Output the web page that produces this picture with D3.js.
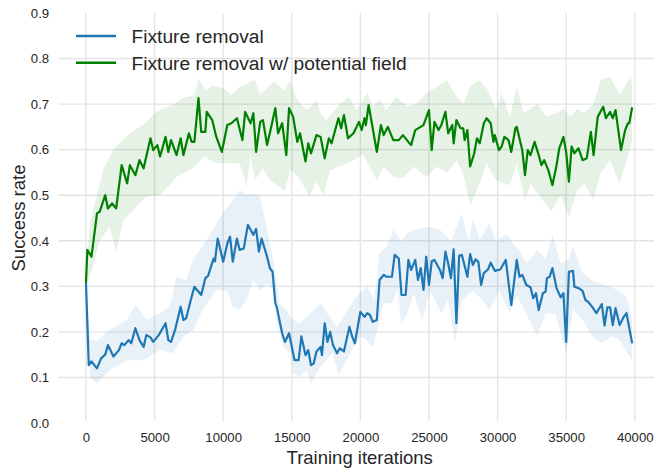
<!DOCTYPE html>
<html>
<head>
<meta charset="utf-8">
<script src="https://cdn.jsdelivr.net/npm/d3@7"></script>
<style>
  body { margin: 0; background: #fff; }
  svg { display: block; font-family: "Liberation Sans", Arial, sans-serif; }
</style>
</head>
<body>
<svg id="chart" width="654" height="468"></svg>
<script>
// ---- data ----
const seriesNames = ['Fixture removal', 'Fixture removal w/ potential field'];
const xTicks = [0, 5000, 10000, 15000, 20000, 25000, 30000, 35000, 40000];
const yTicks = [0.0, 0.1, 0.2, 0.3, 0.4, 0.5, 0.6, 0.7, 0.8, 0.9];

// blue: fixture removal (mean)
const blueIter = [0,200,400,800,1100,1400,1600,2000,2400,2600,2800,3100,3300,3600,3900,4200,4400,4700,4900,5300,5800,6000,6200,6500,6900,7100,7300,7700,7900,8400,8700,8900,9300,9400,9600,10000,10300,10500,10700,11000,11200,11500,11800,12000,12200,12400,12600,12800,13200,13400,13600,13800,13900,14300,14500,14800,15200,15500,15700,16000,16200,16400,16600,16800,17100,17200,17400,17600,17800,18000,18300,18500,18800,19200,19400,19600,20000,20300,20500,20700,20900,21200,21400,21700,21900,22300,22500,22800,23000,23300,23500,23700,24000,24200,24400,24600,24800,25000,25200,25400,25800,26000,26200,26400,26600,26800,27000,27200,27400,27800,28000,28200,28400,28600,28800,29000,29300,29500,29800,30200,30600,31000,31400,31600,31800,32100,32400,32600,32800,33000,33300,33500,33600,33800,34000,34300,34600,34800,35000,35200,35500,35600,35900,36200,36400,36600,36900,37200,37600,37800,38000,38200,38400,38600,38900,39200,39400,39800];
const blueRate = [0.307,0.127,0.135,0.12,0.142,0.15,0.171,0.146,0.16,0.175,0.171,0.182,0.175,0.208,0.182,0.167,0.193,0.188,0.178,0.193,0.219,0.182,0.178,0.205,0.255,0.226,0.23,0.277,0.299,0.281,0.318,0.323,0.361,0.355,0.405,0.354,0.394,0.409,0.354,0.405,0.38,0.383,0.435,0.424,0.413,0.426,0.376,0.405,0.365,0.34,0.332,0.263,0.255,0.197,0.178,0.197,0.138,0.138,0.19,0.149,0.16,0.127,0.131,0.157,0.167,0.149,0.219,0.178,0.2,0.171,0.153,0.164,0.157,0.211,0.19,0.175,0.244,0.233,0.241,0.237,0.222,0.226,0.314,0.325,0.321,0.321,0.369,0.361,0.281,0.281,0.358,0.336,0.358,0.314,0.34,0.292,0.365,0.303,0.355,0.358,0.336,0.318,0.376,0.35,0.318,0.381,0.219,0.367,0.369,0.321,0.371,0.347,0.359,0.354,0.303,0.329,0.337,0.352,0.334,0.337,0.358,0.259,0.358,0.321,0.325,0.303,0.298,0.274,0.285,0.248,0.285,0.288,0.318,0.321,0.34,0.296,0.276,0.285,0.178,0.332,0.334,0.299,0.296,0.29,0.27,0.266,0.255,0.241,0.261,0.214,0.254,0.254,0.215,0.252,0.215,0.233,0.241,0.177];

// blue band edges
const blueHiIter = [0,300,800,1700,3000,3600,4400,5400,6100,6600,7300,7800,8800,9800,10700,11200,11700,12200,12700,12900,13200,13700,14100,14600,15100,15600,17100,17600,18300,19200,19900,20500,21000,21400,21900,22400,23000,23400,23900,25100,25800,26600,27400,27900,28200,28700,29400,29900,30700,31100,31600,32100,32900,33500,34000,34600,35200,35500,36200,36900,37400,38200,38900,39400,39800];
const blueHi = [0.307,0.182,0.18,0.204,0.226,0.26,0.226,0.241,0.255,0.321,0.314,0.358,0.402,0.453,0.489,0.511,0.5,0.504,0.497,0.468,0.424,0.35,0.263,0.248,0.226,0.219,0.263,0.24,0.211,0.255,0.285,0.299,0.27,0.372,0.387,0.424,0.4,0.416,0.424,0.431,0.424,0.4,0.46,0.4,0.446,0.402,0.438,0.4,0.416,0.394,0.38,0.35,0.38,0.36,0.413,0.35,0.36,0.387,0.329,0.314,0.307,0.299,0.29,0.277,0.226];
const blueLoIter = [0,300,800,1700,3000,4200,5400,6300,7100,7800,8500,9500,10300,10700,11200,11700,12200,12700,13200,13700,13900,14400,14900,15100,15600,16100,16400,17100,17700,18000,18400,19000,19500,20000,20500,20900,21300,21700,22300,22700,23000,23400,23900,24500,24800,25100,25900,26400,26900,27400,28200,28900,29400,30100,30900,31400,32100,32900,33500,34200,35000,35500,36200,36900,37600,38300,38900,39800];
const blueLo = [0.3,0.1,0.087,0.116,0.138,0.138,0.16,0.153,0.19,0.204,0.248,0.292,0.29,0.255,0.248,0.27,0.314,0.29,0.307,0.292,0.226,0.167,0.153,0.109,0.102,0.115,0.087,0.124,0.145,0.153,0.105,0.138,0.167,0.19,0.18,0.167,0.211,0.263,0.263,0.292,0.219,0.24,0.285,0.226,0.26,0.29,0.241,0.27,0.175,0.27,0.29,0.27,0.248,0.29,0.241,0.28,0.24,0.19,0.241,0.24,0.153,0.25,0.226,0.19,0.175,0.19,0.182,0.138];

// green: fixture removal w/ potential field (mean)
const greenIter = [0,100,400,800,1000,1400,1600,1900,2200,2600,3000,3200,3600,3900,4200,4700,4900,5200,5400,5800,6000,6200,6600,6900,7100,7500,7700,7900,8200,8400,8700,8800,9200,9500,9900,10300,10600,11000,11400,11600,12000,12200,12400,12700,12900,13200,13500,13800,14000,14300,14600,14800,15100,15400,15600,16000,16200,16400,16800,17100,17400,17700,17900,18400,18600,18800,19100,19500,19900,20100,20300,20400,20600,20900,21200,21500,21700,22000,22400,22800,23100,23500,23700,24000,24600,25000,25200,25400,25700,25900,26200,26400,26700,26800,27000,27300,27500,27600,27800,28000,28300,28500,28700,29000,29200,29500,29700,29800,30100,30300,30500,30800,31000,31300,31400,31800,32000,32200,32400,32700,33000,33200,33400,33700,34000,34300,34500,34800,35000,35200,35400,35600,35900,36200,36500,36800,37000,37300,37700,37900,38200,38400,38600,39000,39300,39500,39600,39800];
const greenRate = [0.31,0.38,0.365,0.46,0.464,0.5,0.471,0.482,0.471,0.566,0.526,0.566,0.544,0.577,0.559,0.625,0.599,0.61,0.585,0.628,0.595,0.621,0.588,0.625,0.588,0.636,0.617,0.617,0.713,0.639,0.639,0.683,0.665,0.628,0.595,0.654,0.658,0.669,0.621,0.683,0.658,0.68,0.595,0.661,0.665,0.61,0.65,0.691,0.636,0.658,0.588,0.691,0.672,0.617,0.636,0.574,0.614,0.592,0.632,0.628,0.581,0.625,0.614,0.669,0.647,0.676,0.625,0.636,0.661,0.643,0.669,0.654,0.698,0.647,0.595,0.654,0.632,0.65,0.621,0.621,0.632,0.617,0.61,0.643,0.654,0.687,0.599,0.661,0.643,0.654,0.683,0.636,0.654,0.614,0.665,0.647,0.647,0.621,0.643,0.563,0.592,0.625,0.614,0.658,0.669,0.658,0.617,0.632,0.599,0.607,0.628,0.621,0.595,0.647,0.65,0.599,0.544,0.599,0.588,0.617,0.588,0.566,0.577,0.555,0.522,0.566,0.603,0.628,0.595,0.53,0.607,0.592,0.603,0.577,0.581,0.639,0.588,0.672,0.694,0.669,0.683,0.669,0.687,0.599,0.643,0.658,0.658,0.691];

// green band edges
const greenHiIter = [0,300,800,1300,2000,2600,3400,4200,5000,5600,6400,7200,7900,8200,8700,9200,10000,10600,11200,12300,12700,13700,14400,14900,15400,16100,16800,17100,17500,18500,19200,19700,20500,20900,21400,21900,22600,23400,24100,24800,25600,26300,27000,27500,28000,28700,29300,29900,30300,30900,31400,31900,32900,33600,34300,34800,35300,35800,36300,37000,37500,38200,38900,39700,39800];
const greenHi = [0.33,0.44,0.5,0.56,0.6,0.62,0.64,0.655,0.68,0.69,0.7,0.715,0.72,0.757,0.73,0.74,0.735,0.72,0.738,0.753,0.72,0.75,0.73,0.753,0.709,0.687,0.709,0.68,0.665,0.7,0.716,0.687,0.724,0.695,0.709,0.687,0.716,0.695,0.7,0.724,0.738,0.753,0.716,0.7,0.738,0.753,0.73,0.687,0.724,0.672,0.738,0.68,0.7,0.672,0.68,0.69,0.672,0.69,0.68,0.7,0.753,0.76,0.72,0.76,0.74];
const greenLoIter = [0,500,1000,1700,2200,2700,3700,4400,5400,6600,7800,8600,9500,10300,11200,11700,12000,12300,12900,13400,14500,14900,15500,16300,16800,17300,17800,18500,19500,20200,21200,21700,22400,23100,23900,24800,25600,26300,27000,27500,28000,28700,29200,29900,30900,31400,32000,32400,33300,33900,34600,35200,35800,36300,37000,37500,38200,38900,39700,39800];
const greenLo = [0.3,0.343,0.4,0.43,0.376,0.444,0.475,0.497,0.5,0.54,0.56,0.585,0.57,0.57,0.57,0.519,0.588,0.533,0.56,0.533,0.51,0.555,0.54,0.497,0.53,0.5,0.555,0.563,0.577,0.59,0.533,0.563,0.54,0.537,0.563,0.54,0.563,0.548,0.577,0.548,0.478,0.526,0.57,0.533,0.522,0.57,0.489,0.526,0.489,0.464,0.5,0.453,0.51,0.526,0.49,0.548,0.577,0.526,0.607,0.62];

// ---- layout ----
const width = 654, height = 468;
const plotTop = 13, plotBottom = 423, plotLeft = 58.7;
const svg = d3.select('#chart');

const x = d3.scaleLinear().domain([-1990, 41790]).range([plotLeft, 659.3]);
const y = d3.scaleLinear().domain([0, 0.9]).range([plotBottom, plotTop]);

const gridColor = '#e4e4e4';
const textColor = '#262626';

// grid
svg.append('g').selectAll('line')
  .data(yTicks.slice(1, -1))
  .enter().append('line')
  .attr('x1', plotLeft).attr('x2', width)
  .attr('y1', d => y(d)).attr('y2', d => y(d))
  .attr('stroke', gridColor).attr('stroke-width', 1.4);

svg.append('g').selectAll('line')
  .data(xTicks)
  .enter().append('line')
  .attr('x1', d => x(d)).attr('x2', d => x(d))
  .attr('y1', plotTop).attr('y2', plotBottom - 2)
  .attr('stroke', gridColor).attr('stroke-width', 1.4);

// axes (labels only)
const yAxis = svg.append('g')
  .attr('transform', 'translate(' + plotLeft + ',0)')
  .call(d3.axisLeft(y).tickValues(yTicks).tickFormat(d3.format('.1f')).tickSize(0).tickPadding(9.5));
const xAxis = svg.append('g')
  .attr('transform', 'translate(0,' + plotBottom + ')')
  .call(d3.axisBottom(x).tickValues(xTicks).tickFormat(d => String(d)).tickSize(0).tickPadding(9.3));
[xAxis, yAxis].forEach(g => {
  g.select('.domain').remove();
  g.selectAll('text')
    .attr('fill', textColor)
    .style('font-size', '13.2px')
    .style('font-family', '"Liberation Sans", Arial, sans-serif');
});

// axis titles
svg.append('text')
  .attr('x', 359.7).attr('y', 463.5)
  .attr('text-anchor', 'middle')
  .attr('fill', textColor)
  .style('font-size', '18.5px')
  .text('Training iterations');

svg.append('text')
  .attr('transform', 'translate(24.5,218) rotate(-90)')
  .attr('text-anchor', 'middle')
  .attr('fill', textColor)
  .style('font-size', '18.5px')
  .text('Success rate');

// helpers
const line = d3.line().x(d => x(d[0])).y(d => y(d[1]));
const zip = (a, b) => a.map((v, i) => [v, b[i]]);

function drawBand(hiIter, hi, loIter, lo, color) {
  const pts = zip(hiIter, hi).concat(zip(loIter, lo).reverse());
  svg.append('path')
    .attr('d', line(pts) + 'Z')
    .attr('fill', color)
    .attr('fill-opacity', 0.1)
    .attr('stroke', 'none');
}

function drawLine(iter, rate, color) {
  svg.append('path')
    .attr('d', line(zip(iter, rate)))
    .attr('fill', 'none')
    .attr('stroke', color)
    .attr('stroke-width', 2.2)
    .attr('stroke-linejoin', 'round')
    .attr('stroke-linecap', 'round');
}

const blue = '#1f77b4';
const green = '#008000';

drawBand(blueHiIter, blueHi, blueLoIter, blueLo, blue);
drawLine(blueIter, blueRate, blue);
drawBand(greenHiIter, greenHi, greenLoIter, greenLo, green);
drawLine(greenIter, greenRate, green);

// legend
const legend = svg.append('g');
[blue, green].forEach((c, i) => {
  const ly = 36 + i * 26.7;
  legend.append('line')
    .attr('x1', 76).attr('x2', 116)
    .attr('y1', ly).attr('y2', ly)
    .attr('stroke', c).attr('stroke-width', 2.4);
  legend.append('text')
    .attr('x', 131.5).attr('y', ly + 7.2)
    .attr('fill', textColor)
    .style('font-size', '19.2px')
    .text(seriesNames[i]);
});
</script>
</body>
</html>
